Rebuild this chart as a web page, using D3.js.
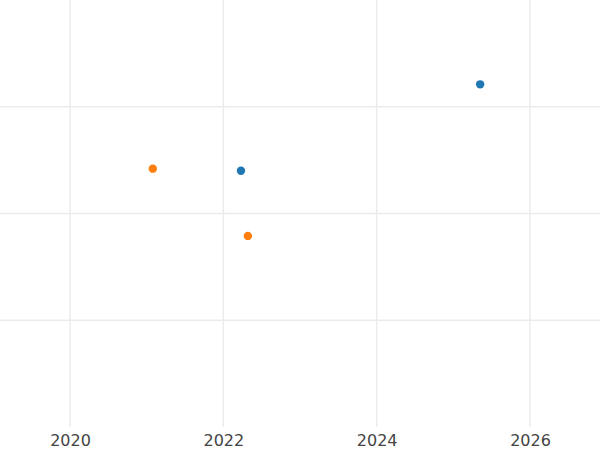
<!DOCTYPE html>
<html>
<head>
<meta charset="utf-8">
<script src="https://cdn.jsdelivr.net/npm/d3@7"></script>
<style>
  body { margin: 0; background: #fff; }
  text { font-family: "DejaVu Sans", sans-serif; }
</style>
</head>
<body>
<svg id="chart" width="600" height="450"></svg>
<script>
// data
const seriesA = [ { x: 2022.23, y: 2.40 }, { x: 2025.35, y: 3.21 } ];
const seriesB = [ { x: 2021.08, y: 2.42 }, { x: 2022.32, y: 1.79 } ];
const xTicks = [2020, 2022, 2024, 2026];
const yTicks = [1, 2, 3];
const colors = ["#1f77b4", "#ff7f0e"];

const svg = d3.select("#chart");
const width = 600, bottom = 427;

const x = d3.scaleLinear().domain([2019.087, 2026.913]).range([0, width]);
const y = d3.scaleLinear().domain([0, 4]).range([bottom, 0]);

// grid
svg.append("g").selectAll("line").data(yTicks).join("line")
  .attr("x1", 0).attr("x2", width)
  .attr("y1", d => y(d)).attr("y2", d => y(d))
  .attr("stroke", "#ebebeb").attr("stroke-width", 1.5);
svg.append("g").selectAll("line").data(xTicks).join("line")
  .attr("x1", d => x(d)).attr("x2", d => x(d))
  .attr("y1", 0).attr("y2", bottom)
  .attr("stroke", "#ebebeb").attr("stroke-width", 1.5);

// x axis labels
const xAxis = svg.append("g")
  .attr("transform", `translate(0,${bottom})`)
  .call(d3.axisBottom(x).tickValues(xTicks).tickFormat(d3.format("d")).tickSize(0).tickPadding(8));
xAxis.select(".domain").remove();
xAxis.selectAll("text").attr("font-size", 16).attr("fill", "#444")
  .style("font-family", "DejaVu Sans, sans-serif");

// points
[seriesA, seriesB].forEach((s, i) => {
  svg.append("g").selectAll("circle").data(s).join("circle")
    .attr("cx", d => x(d.x)).attr("cy", d => y(d.y))
    .attr("r", 4.2).attr("fill", colors[i]);
});
</script>
</body>
</html>
